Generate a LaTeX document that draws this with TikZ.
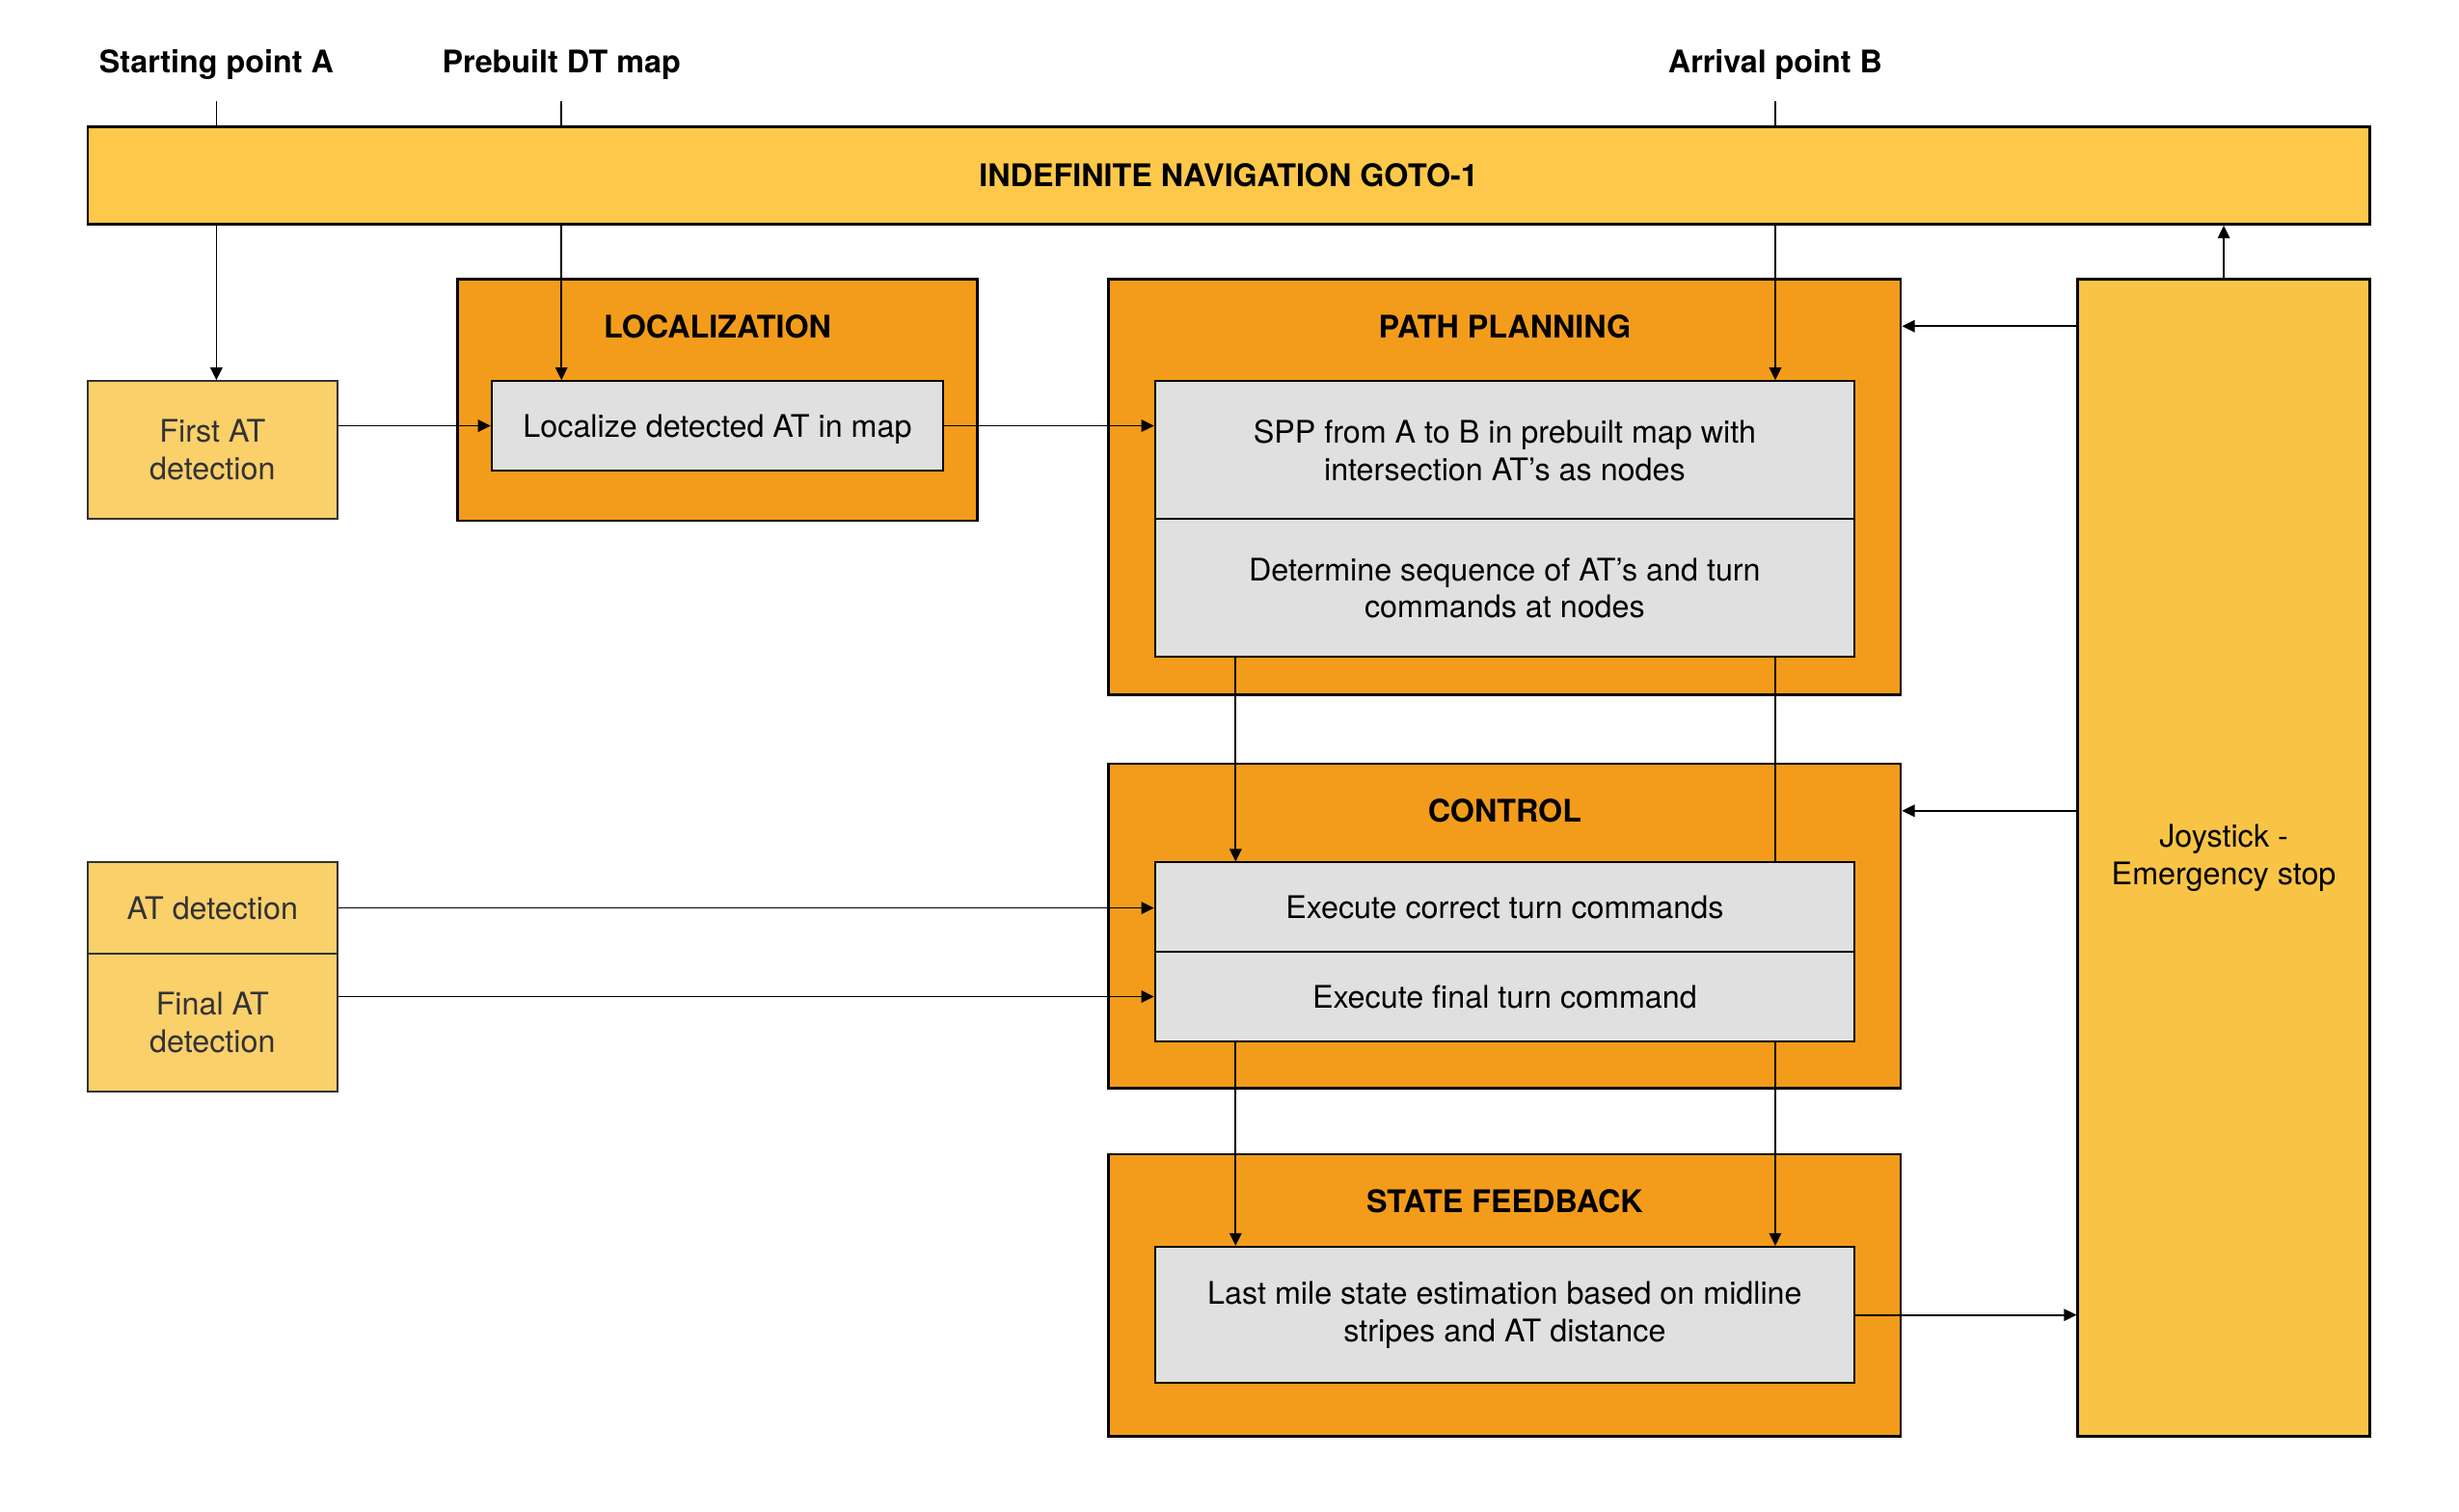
\documentclass[tikz,border=0pt]{standalone}
\usepackage{fontspec}
\setmainfont{TeX Gyre Heros}
\usepackage{tikz}
\usetikzlibrary{positioning, calc, arrows.meta}
\definecolor{barcol}{HTML}{FEC84A}
\definecolor{joycol}{HTML}{F9C445}
\definecolor{senscol}{HTML}{FAD06B}
\definecolor{blockcol}{HTML}{F39C1B}
\definecolor{procgray}{HTML}{E0E0E0}
\definecolor{senstext}{HTML}{333333}
\tikzstyle{topbar} = [rectangle, minimum width=29.1cm, minimum height=1.24cm, text centered, draw=black, line width=1pt, fill=barcol, font=\bfseries]
\tikzstyle{block} = [rectangle, draw=black, line width=1pt, fill=blockcol, minimum width=10.1cm]
\tikzstyle{process} = [rectangle, minimum width=8.92cm, minimum height=1.76cm, text centered, draw=black, line width=0.7pt, fill=procgray]
\tikzstyle{sensor} = [rectangle, minimum width=3.18cm, minimum height=1.76cm, text centered, draw=senstext, line width=0.7pt, fill=senscol, text=senstext]
\tikzstyle{joybox} = [rectangle, minimum width=3.72cm, minimum height=14.76cm, text centered, draw=black, line width=1pt, fill=joycol]
\tikzstyle{oneline} = [text depth=0pt]
\tikzstyle{titletext} = [font=\bfseries]
\tikzstyle{inlabel} = [font=\bfseries, minimum height=1cm, inner sep=0pt, text depth=0pt]
\tikzstyle{line} = [line width=0.6pt]
\tikzstyle{arrow} = [->, >={Triangle[length=4.6pt, width=4.4pt]}, line width=0.6pt]

\begin{document}
\fontsize{11.3}{13.6}\selectfont
\begin{tikzpicture}[node distance=1cm, align=center]
  \useasboundingbox (-15.67,2.24) rectangle (15.69,-17.04);
  % main block and its inputs
  \node (goto) [topbar] {INDEFINITE NAVIGATION GOTO-1};
  \node (startA) [inlabel, above of=goto, xshift=-12.91cm, yshift=0.46cm] {Starting point A};
  \node (mapDT) [inlabel, above of=goto, xshift=-8.51cm, yshift=0.46cm] {Prebuilt DT map};
  \node (arrB) [inlabel, above of=goto, xshift=6.97cm, yshift=0.46cm] {Arrival point B};

  % localization
  \node (firstAT) [sensor, below of=goto, xshift=-12.96cm, yshift=-2.5cm] {First AT\\detection};
  \node (loc) [block, minimum width=6.62cm, minimum height=3.08cm, below of=goto, xshift=-6.52cm, yshift=-1.86cm] {};
  \node (loct) [titletext, above of=loc, yshift=-0.06cm] {LOCALIZATION};
  \node (locin) [process, oneline, minimum width=5.76cm, minimum height=1.14cm, below of=loc, yshift=0.67cm] {Localize detected AT in map};

  % path planning
  \node (plan) [block, minimum height=5.3cm, below of=goto, xshift=3.52cm, yshift=-2.97cm] {};
  \node (plant) [titletext, above of=plan, yshift=1.05cm] {PATH PLANNING};
  \node (spp) [process, below of=plan, yshift=1.47cm] {SPP from A to B in prebuilt map with\\intersection AT’s as nodes};
  \node (seq) [process, below of=spp, yshift=-0.76cm] {Determine sequence of AT’s and turn\\commands at nodes};

  % control
  \node (ctrl) [block, minimum height=4.14cm, below of=plan, yshift=-4.6cm] {};
  \node (ctrlt) [titletext, above of=ctrl, yshift=0.47cm] {CONTROL};
  \node (exec1) [process, oneline, minimum height=1.14cm, below of=ctrl, yshift=1.24cm] {Execute correct turn commands};
  \node (exec2) [process, oneline, minimum height=1.14cm, below of=exec1, yshift=-0.14cm] {Execute final turn command};
  \node (atdet) [sensor, oneline, minimum height=1.16cm, below of=firstAT, yshift=-4.84cm] {AT detection};
  \node (finalAT) [sensor, below of=atdet, yshift=-0.46cm] {Final AT\\detection};

  % state feedback
  \node (state) [block, minimum height=3.6cm, below of=ctrl, yshift=-3.71cm] {};
  \node (statet) [titletext, above of=state, yshift=0.2cm] {STATE FEEDBACK};
  \node (lastmile) [process, minimum height=1.74cm, below of=state, yshift=0.75cm] {Last mile state estimation based on midline\\stripes and AT distance};

  % joystick
  \node (joy) [joybox, below of=goto, xshift=12.69cm, yshift=-7.7cm] {Joystick -\\Emergency stop};

  \coordinate (lx) at ($(seq.south west)+(1.04,0)$);

  % connectors
  \draw [line](startA.south) -- (startA.south |- goto.north);
  \draw [line](mapDT.south) -- (mapDT.south |- goto.north);
  \draw [line](arrB.south) -- (arrB.south |- goto.north);
  \draw [arrow](goto.south -| startA) -- (firstAT.north -| startA);
  \draw [arrow](goto.south -| mapDT) -- (locin.north -| mapDT);
  \draw [arrow](goto.south -| arrB) -- (spp.north -| arrB);

  \draw [arrow](firstAT.east |- locin) -- (locin.west);
  \draw [arrow](locin.east) -- (locin.east -| spp.west);

  \draw [arrow](lx) -- (lx |- exec1.north);
  \draw [line](seq.south -| arrB) -- (exec1.north -| arrB);
  \draw [arrow](atdet.east) -- (atdet.east -| exec1.west);
  \draw [arrow](finalAT.east |- exec2) -- (exec2.west);

  \draw [arrow](exec2.south -| lx) -- (lastmile.north -| lx);
  \draw [arrow](exec2.south -| arrB) -- (lastmile.north -| arrB);
  \draw [arrow](lastmile.east) -- (lastmile.east -| joy.west);

  \draw [arrow](joy.west |- plant) -- (plan.east |- plant);
  \draw [arrow](joy.west |- ctrlt) -- (ctrl.east |- ctrlt);
  \draw [arrow](joy.north) -- (joy.north |- goto.south);
\end{tikzpicture}
\end{document}
